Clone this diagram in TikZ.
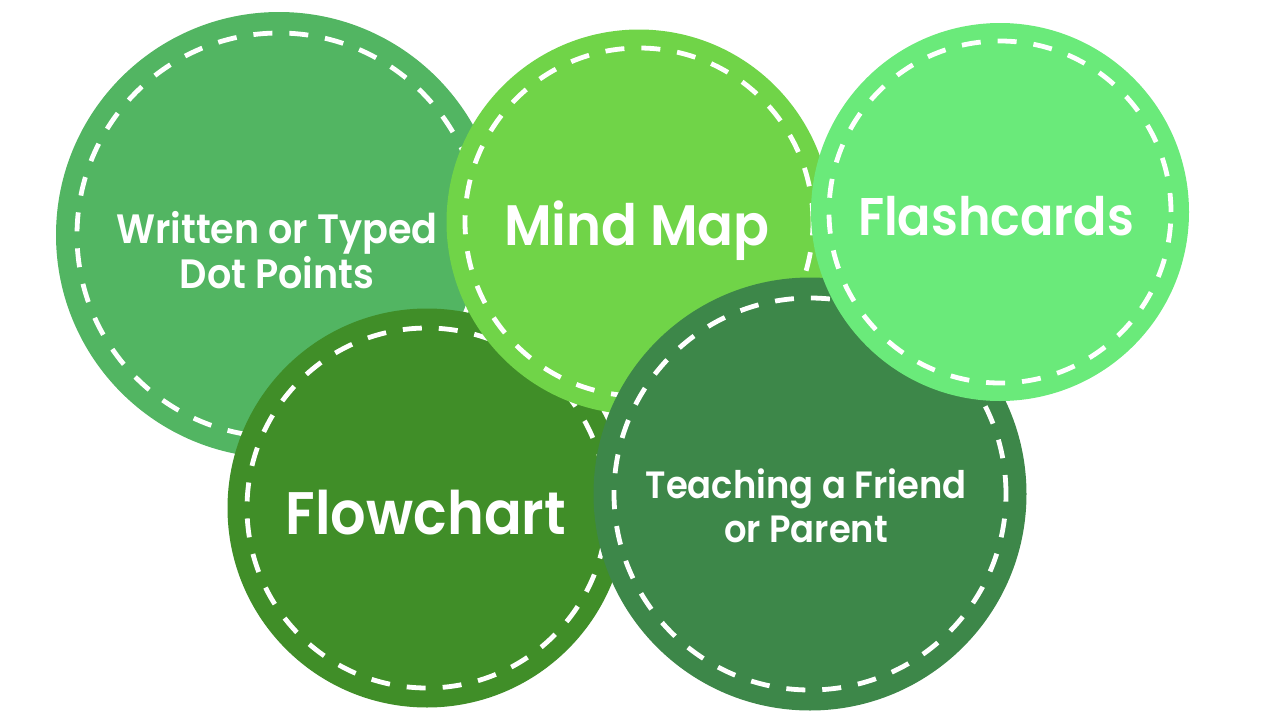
\documentclass[tikz,border=0pt]{standalone}
\usepackage{fontspec}
\setmainfont{Poppins}[BoldFont={Poppins SemiBold}, BoldFeatures={FakeStretch=0.93}]
\usepackage{tikz}
\definecolor{written fill}{HTML}{52B562}
\definecolor{mind fill}{HTML}{70D448}
\definecolor{flash fill}{HTML}{6AEA7A}
\definecolor{flow fill}{HTML}{408E28}
\definecolor{teach fill}{HTML}{3D8749}
\tikzset{disc/.style={circle, inner sep=0pt, minimum size=#1},
	stitch/.style={draw=white, line width=4.8pt, dash pattern=on 19pt off 17pt},
	label text/.style={text=white, font=\bfseries, align=center}}

\begin{document}
\begin{tikzpicture}[x=1pt, y=-1pt]
		\useasboundingbox (0,0) rectangle (1280,720);
		% written or typed
		\node[disc=446pt, fill=written fill] (written) at (279,235) {};
		\draw[stitch] (written.center) circle (202pt);
		\node[label text, font=\bfseries\fontsize{41}{45}\selectfont] (writtentext) at (277,250) {Written or Typed\\Dot Points};
		% flowchart
		\node[disc=399pt, fill=flow fill] (flow) at (427,508) {};
		\draw[stitch] (flow.center) circle (180pt);
		\node[label text, font=\bfseries\fontsize{60}{64}\selectfont] (flowtext) at (426,513) {Flowchart};
		% mind map
		\node[disc=385pt, fill=mind fill] (mind) at (639,222) {};
		\draw[stitch] (mind.center) circle (174pt);
		\node[label text, font=\bfseries\fontsize{57}{60}\selectfont] (mindtext) at (637,231) {Mind Map};
		% teaching
		\node[disc=433pt, fill=teach fill] (teach) at (810,494) {};
		\draw[stitch] (teach.center) circle (196pt);
		\node[label text, font=\bfseries\fontsize{38}{44}\selectfont] (teachtext) at (806,506) {Teaching a Friend\\or Parent};
		% flashcards
		\node[disc=378pt, fill=flash fill] (flash) at (1000,212) {};
		\draw[stitch] (flash.center) circle (171pt);
		\node[label text, font=\bfseries\fontsize{53}{60}\selectfont] (flashtext) at (996,216) {Flashcards};
		\end{tikzpicture}
\end{document}
